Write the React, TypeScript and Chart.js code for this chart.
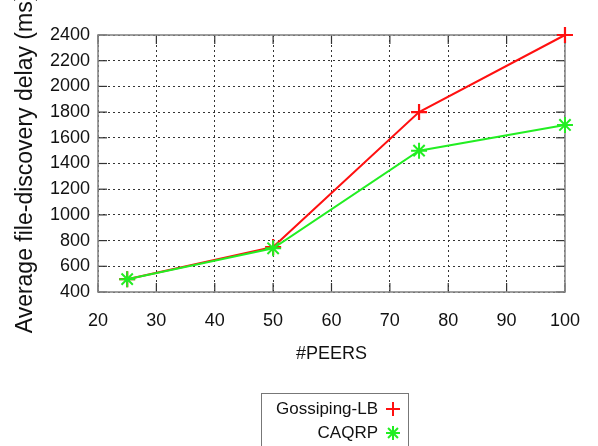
import { useEffect, useRef } from 'react';
import { Chart, registerables } from 'chart.js';
Chart.register(...registerables);

const peers = [25, 50, 75, 100];
const gossipingLB = [500, 750, 1800, 2400];
const caqrp = [500, 740, 1500, 1700];
const seriesLabels = ['Gossiping-LB', 'CAQRP'];
const seriesColors = ['#ff1010', '#22ee22'];
const xRange = [20, 100, 10];
const yRange = [400, 2400, 200];
const xTitle = '#PEERS';
const yTitle = 'Average file-discovery delay (ms)';

const FONT = '"Liberation Sans", Arial, sans-serif';
const FS = 18;

function drawMarker(ctx: CanvasRenderingContext2D, style: string, x: number, y: number, r: number) {
  ctx.beginPath();
  if (style === 'cross' || style === 'star') {
    ctx.moveTo(x - r, y); ctx.lineTo(x + r, y);
    ctx.moveTo(x, y - r); ctx.lineTo(x, y + r);
  }
  if (style === 'star' || style === 'crossRot') {
    const d = r * Math.SQRT1_2;
    ctx.moveTo(x - d, y - d); ctx.lineTo(x + d, y + d);
    ctx.moveTo(x - d, y + d); ctx.lineTo(x + d, y - d);
  }
  ctx.stroke();
}

const framePlugin = {
  id: 'frame',
  beforeDatasetsDraw(chart: any) {
    const { ctx, chartArea: a, scales } = chart;
    ctx.save();
    ctx.strokeStyle = '#333';
    ctx.lineWidth = 1.2;
    const tl = 9;
    const line = (x1: number, y1: number, x2: number, y2: number) => {
      ctx.beginPath(); ctx.moveTo(x1, y1); ctx.lineTo(x2, y2); ctx.stroke();
    };
    scales.x.ticks.forEach((t: any) => {
      const px = scales.x.getPixelForValue(t.value);
      line(px, a.bottom, px, a.bottom - tl);
      line(px, a.top, px, a.top + tl);
    });
    scales.y.ticks.forEach((t: any) => {
      const py = scales.y.getPixelForValue(t.value);
      line(a.left, py, a.left + tl, py);
      line(a.right, py, a.right - tl, py);
    });
    ctx.strokeStyle = '#888';
    ctx.lineWidth = 1.6;
    ctx.strokeRect(a.left, a.top, a.right - a.left, a.bottom - a.top);
    ctx.restore();
  },
  afterDraw(chart: any) {
    const { ctx } = chart;
    ctx.save();
    ctx.strokeStyle = '#777';
    ctx.lineWidth = 1;
    ctx.strokeRect(261.5, 393.5, 147, 70);
    ctx.font = `17px ${FONT}`;
    ctx.fillStyle = '#111';
    ctx.textAlign = 'right';
    ctx.textBaseline = 'middle';
    chart.data.datasets.forEach((ds: any, i: number) => {
      const y = 409 + i * 24;
      ctx.fillText(ds.label, 378, y);
      ctx.strokeStyle = ds.borderColor;
      ctx.lineWidth = 2;
      drawMarker(ctx, ds.pointStyle, 393, y, 7);
    });
    ctx.restore();
  },
};

export default function App() {
  const ref = useRef<HTMLCanvasElement>(null);
  useEffect(() => {
    const chart = new Chart(ref.current!, {
      type: 'line',
      data: {
        datasets: [
          {
            label: seriesLabels[0],
            data: peers.map((p, i) => ({ x: p, y: gossipingLB[i] })),
            borderColor: seriesColors[0],
            backgroundColor: seriesColors[0],
            borderWidth: 2,
            pointStyle: 'cross',
            pointRadius: 8,
            pointBorderWidth: 2.2,
            clip: false,
            order: 1,
          },
          {
            label: seriesLabels[1],
            data: peers.map((p, i) => ({ x: p, y: caqrp[i] })),
            borderColor: seriesColors[1],
            backgroundColor: seriesColors[1],
            borderWidth: 2,
            pointStyle: 'star',
            pointRadius: 8,
            pointBorderWidth: 2,
            clip: false,
            order: 0,
          },
        ],
      },
      options: {
        responsive: false,
        animation: false,
        layout: { padding: { left: 0, top: 35, right: 28, bottom: 0 } },
        plugins: { legend: { display: false }, tooltip: { enabled: false } },
        scales: {
          x: {
            type: 'linear',
            min: xRange[0],
            max: xRange[1],
            afterFit: (s: any) => { s.height = 154; },
            ticks: {
              stepSize: xRange[2], autoSkip: false, callback: (v: any) => String(v),
              font: { family: FONT, size: FS }, color: '#111', padding: 18, maxRotation: 0,
            },
            grid: { color: '#333', lineWidth: 1, drawTicks: false },
            border: { display: false, dash: [2, 3] },
            title: { display: true, text: xTitle, font: { family: FONT, size: FS }, color: '#111', padding: { top: 0, bottom: 81 } },
          },
          y: {
            type: 'linear',
            min: yRange[0],
            max: yRange[1],
            afterFit: (s: any) => { s.width = 98; },
            ticks: {
              stepSize: yRange[2], autoSkip: false, callback: (v: any) => String(v),
              font: { family: FONT, size: FS }, color: '#111', padding: 8,
            },
            grid: { color: '#333', lineWidth: 1, drawTicks: false },
            border: { display: false, dash: [2, 3] },
            title: { display: true, text: yTitle, font: { family: FONT, size: 23 }, color: '#111', padding: { top: 12, bottom: 0 } },
          },
        },
      },
      plugins: [framePlugin],
    } as any);
    return () => chart.destroy();
  }, []);
  return (
    <div style={{ position: 'fixed', left: 0, top: 0, width: 598, height: 446, background: '#fff' }}>
      <canvas ref={ref} width={598} height={446} style={{ width: 598, height: 446 }} />
    </div>
  );
}
